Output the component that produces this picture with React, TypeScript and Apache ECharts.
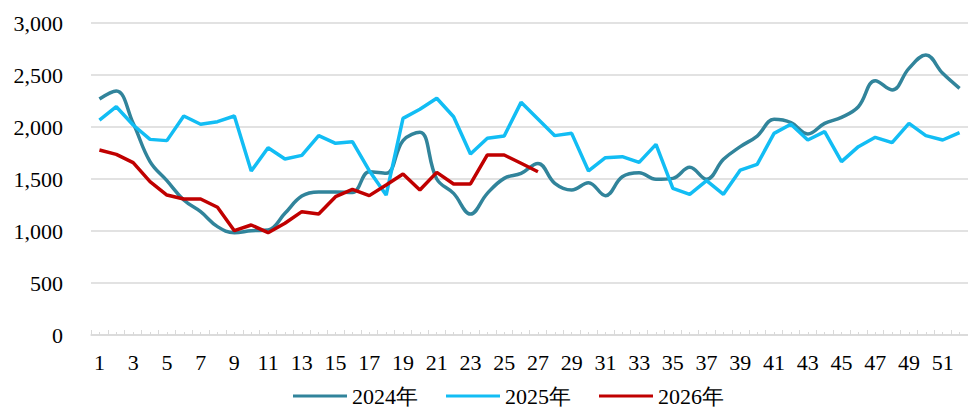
import React, { useEffect, useRef } from "react";
import * as echarts from "echarts";

const weeks = ["1","2","3","4","5","6","7","8","9","10","11","12","13","14","15","16","17","18","19","20","21","22","23","24","25","26","27","28","29","30","31","32","33","34","35","36","37","38","39","40","41","42","43","44","45","46","47","48","49","50","51","52"];

const y2024 = [2269, 2346, 2035, 1667, 1484, 1298, 1186, 1042, 984, 1003, 1010, 1170, 1336, 1375, 1375, 1369, 1570, 1555, 1870, 1950, 1500, 1362, 1163, 1362, 1506, 1554, 1650, 1458, 1394, 1465, 1340, 1522, 1560, 1497, 1506, 1612, 1497, 1689, 1811, 1913, 2074, 2042, 1933, 2035, 2093, 2195, 2445, 2356, 2564, 2692, 2516, 2372];

const y2025 = [2067, 2195, 2019, 1881, 1869, 2106, 2026, 2051, 2106, 1577, 1801, 1692, 1727, 1917, 1843, 1859, 1580, 1346, 2083, 2170, 2276, 2099, 1740, 1891, 1913, 2237, 2077, 1917, 1939, 1577, 1705, 1715, 1660, 1833, 1410, 1353, 1484, 1353, 1586, 1641, 1939, 2026, 1875, 1955, 1667, 1811, 1901, 1849, 2035, 1917, 1875, 1945];

const y2026 = [1779, 1737, 1657, 1474, 1346, 1308, 1308, 1228, 1003, 1058, 984, 1074, 1186, 1163, 1330, 1400, 1340, 1442, 1548, 1394, 1564, 1452, 1452, 1731, 1731, 1651, 1570];

const seriesNames = ["2024年", "2025年", "2026年"];
const colors = ["#31849B", "#12BDF4", "#C00000"];

const halfTicks: string[] = [];
for (let i = 0; i < weeks.length * 2; i++) halfTicks.push(String(i));

const FONT = "'Liberation Serif', 'Times New Roman', serif";

export default function App() {
  const ref = useRef<HTMLDivElement>(null);
  useEffect(() => {
    if (!ref.current) return;
    const chart = echarts.init(ref.current, undefined, { renderer: "svg" });
    chart.setOption({
      animation: false,
      color: colors,
      textStyle: { fontFamily: FONT },
      grid: { left: 91, top: 23, width: 884, height: 312 },
      legend: {
        data: seriesNames,
        bottom: -2,
        left: 288,
        itemWidth: 54,
        itemHeight: 14,
        itemGap: 28,
        icon: "path://M0,6 L54,6 L54,9 L0,9 Z",
        textStyle: { fontFamily: FONT, fontSize: 22, color: "#000" },
      },
      xAxis: [
        {
          type: "category",
          data: weeks,
          boundaryGap: true,
          axisLine: { show: true, lineStyle: { color: "#D9D9D9", width: 1.5 } },
          axisTick: { show: true, inside: true, length: 5, interval: 0, lineStyle: { color: "#D9D9D9" } },
          axisLabel: { interval: 1, fontFamily: FONT, fontSize: 22, color: "#000", margin: 16 },
        },
        {
          type: "category",
          data: halfTicks,
          position: "bottom",
          boundaryGap: true,
          axisLine: { show: false },
          axisTick: { show: true, inside: true, length: 3, interval: 0, lineStyle: { color: "#D9D9D9" } },
          axisLabel: { show: false },
        },
      ],
      yAxis: {
        type: "value",
        min: 0,
        max: 3000,
        interval: 500,
        axisLine: { show: false },
        axisTick: { show: false },
        splitLine: { lineStyle: { color: "#D9D9D9", width: 1.5 } },
        axisLabel: {
          fontFamily: FONT,
          fontSize: 22,
          color: "#000",
          margin: 28,
          formatter: (v: number) => v.toLocaleString("en-US"),
        },
      },
      series: [
        { name: seriesNames[0], type: "line", data: y2024, smooth: 0.4, symbol: "none", lineStyle: { width: 3.5, color: colors[0] } },
        { name: seriesNames[1], type: "line", data: y2025, symbol: "none", lineStyle: { width: 3.5, color: colors[1] } },
        { name: seriesNames[2], type: "line", data: y2026, symbol: "none", lineStyle: { width: 3.5, color: colors[2] } },
      ],
    });
    return () => chart.dispose();
  }, []);
  return (
    <div
      ref={ref}
      style={{ position: "fixed", left: 0, top: 0, width: 968, height: 410, background: "#fff", overflow: "hidden" }}
    />
  );
}
